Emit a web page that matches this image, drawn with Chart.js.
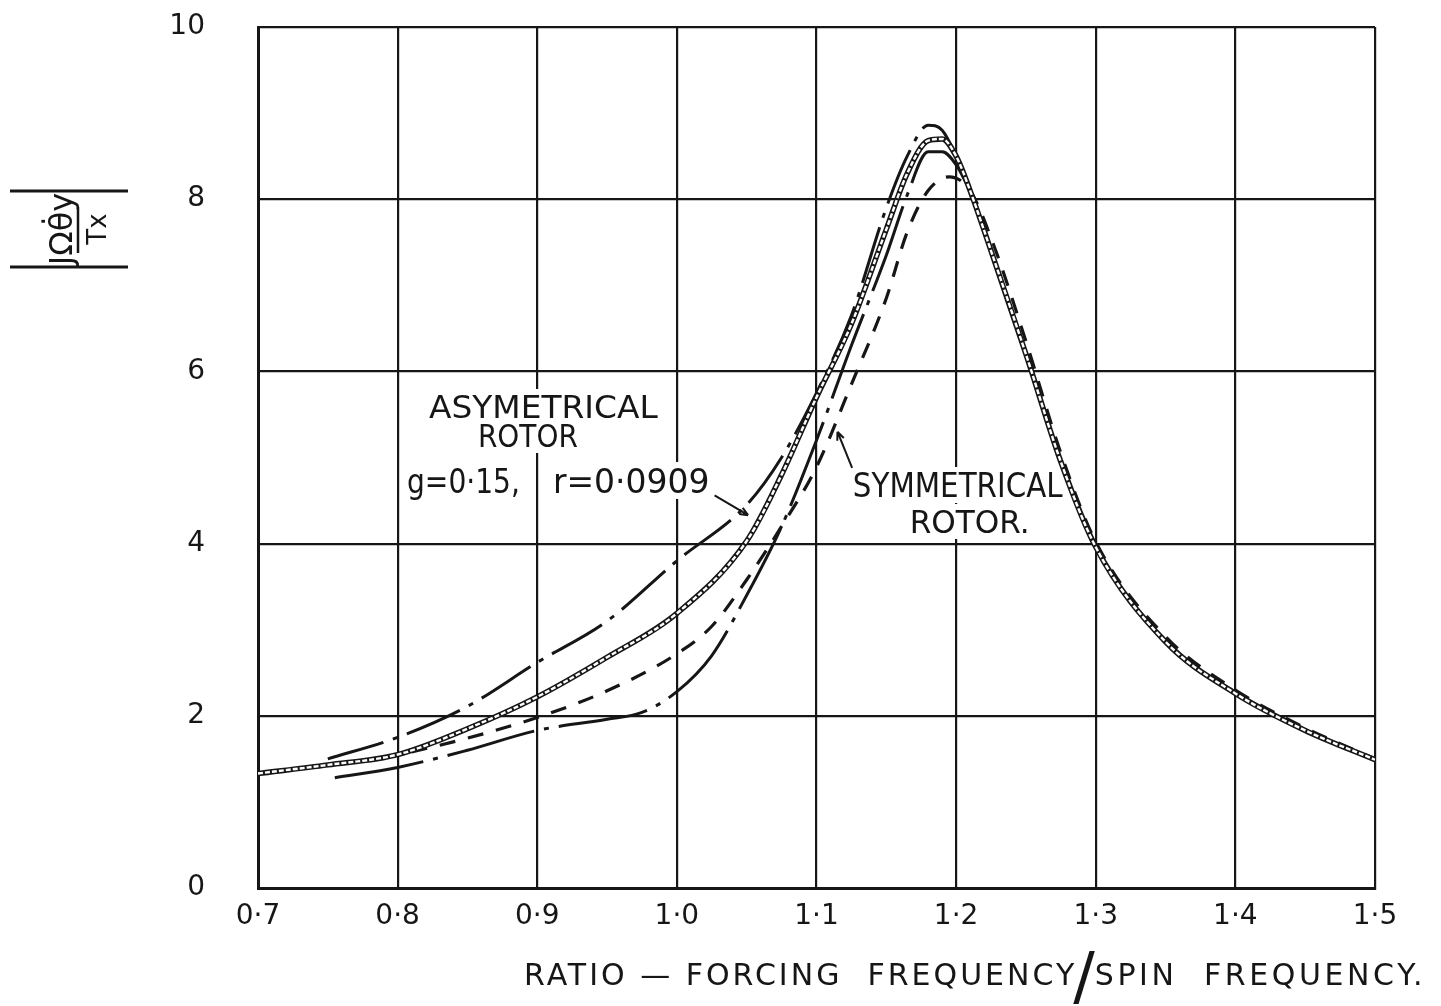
<!DOCTYPE html>
<html>
<head>
<meta charset="utf-8">
<script src="https://cdn.jsdelivr.net/npm/chart.js@4.4.1/dist/chart.umd.min.js"></script>
<style>
    html, body { margin: 0; padding: 0; background: #fff; }
    #quadro { position: relative; width: 1441px; height: 1006px; }
</style>
</head>
<body>
<div id="quadro"><canvas id="graficoRotor"></canvas></div>
<script>
// Marcas dos eixos
const marcasX = [0.7, 0.8, 0.9, 1.0, 1.1, 1.2, 1.3, 1.4, 1.5];
const rotulosX = ['0·7', '0·8', '0·9', '1·0', '1·1', '1·2', '1·3', '1·4', '1·5'];
const marcasY = [0, 2, 4, 6, 8, 10];
const rotulosY = ['0', '2', '4', '6', '8', '10'];

// Curva dupla (linha cheia hachurada)
const xDupla = [0.70, 0.75, 0.80, 0.85, 0.90, 0.95, 1.00, 1.05, 1.075, 1.10, 1.125, 1.15, 1.165, 1.18, 1.19, 1.20, 1.21, 1.225, 1.25, 1.275, 1.30, 1.35, 1.40, 1.45, 1.50];
const yDupla = [1.33, 1.43, 1.55, 1.85, 2.22, 2.68, 3.19, 4.03, 4.80, 5.70, 6.55, 7.65, 8.30, 8.68, 8.70, 8.50, 8.10, 7.40, 6.20, 4.95, 3.96, 2.86, 2.26, 1.83, 1.49];

// Curva traço-ponto (a mais alta)
const xTracoPonto = [0.75, 0.80, 0.85, 0.90, 0.95, 1.00, 1.05, 1.075, 1.10, 1.125, 1.15, 1.165, 1.18, 1.19, 1.20, 1.21];
const yTracoPonto = [1.50, 1.75, 2.11, 2.62, 3.10, 3.80, 4.45, 5.00, 5.75, 6.65, 7.90, 8.50, 8.86, 8.80, 8.50, 8.10];

// Curva traço longo-ponto (a mais baixa à esquerda)
const xTracoLongo = [0.755, 0.80, 0.85, 0.90, 0.95, 0.975, 1.00, 1.025, 1.05, 1.075, 1.10, 1.125, 1.15, 1.165, 1.18, 1.19, 1.20, 1.21];
const yTracoLongo = [1.28, 1.40, 1.60, 1.83, 1.96, 2.04, 2.28, 2.70, 3.40, 4.20, 5.20, 6.30, 7.35, 8.05, 8.55, 8.55, 8.40, 8.10];

// Curva tracejada
const xTracejada = [0.81, 0.85, 0.90, 0.95, 1.00, 1.025, 1.05, 1.075, 1.10, 1.125, 1.15, 1.165, 1.18, 1.195, 1.21, 1.225, 1.25, 1.275, 1.30, 1.35, 1.40, 1.45, 1.50];
const yTracejada = [1.58, 1.74, 1.98, 2.29, 2.72, 3.04, 3.58, 4.20, 4.89, 5.85, 6.85, 7.62, 8.10, 8.26, 8.10, 7.55, 6.35, 5.05, 4.02, 2.92, 2.30, 1.86, 1.50];

// Junta x e y em pontos para o Chart.js
function pontos(xs, ys) {
    return xs.map(function (x, i) { return { x: x, y: ys[i] }; });
}

const FONTE = '"DejaVu Sans", sans-serif';
const TINTA = '#161616';

// Textos dentro do gráfico (posição em unidades dos eixos)
const notas = [
    { texto: 'ASYMETRICAL', x0: 0.8224, x1: 0.9863, y: 5.459, alt: 23 },
    { texto: 'ROTOR', x0: 0.8575, x1: 0.9291, y: 5.122, alt: 23 },
    { texto: 'g=0·15,', x0: 0.8067, x1: 0.8876, y: 4.588, alt: 25 },
    { texto: 'r=0·0909', x0: 0.9112, x1: 1.0233, y: 4.588, alt: 25 },
    { texto: 'SYMMETRICAL', x0: 1.126, x1: 1.2763, y: 4.541, alt: 24 },
    { texto: 'ROTOR.', x0: 1.1667, x1: 1.2527, y: 4.123, alt: 23 }
];
// Setas de chamada
const setas = [
    [1.027, 4.56, 1.051, 4.33],
    [1.1255, 4.88, 1.115, 5.30]
];

// Escreve texto esticado para caber entre x0 e x1
function textoAjustado(ctx, texto, x0, x1, base, alt) {
    ctx.font = (alt / 0.73).toFixed(1) + 'px ' + FONTE;
    const w = ctx.measureText(texto).width;
    ctx.save();
    ctx.translate(x0, base);
    ctx.scale((x1 - x0) / w, 1);
    ctx.textAlign = 'left';
    ctx.textBaseline = 'alphabetic';
    ctx.fillText(texto, 0, 0);
    ctx.restore();
}

const pluginNotas = {
    id: 'notas',
    beforeDatasetsDraw(chart) {
        // apaga a grade por baixo dos textos
        const ctx = chart.ctx, sx = chart.scales.x, sy = chart.scales.y;
        ctx.save();
        ctx.fillStyle = '#fff';
        notas.forEach(function (n) {
            const a = sx.getPixelForValue(n.x0), b = sx.getPixelForValue(n.x1);
            const base = sy.getPixelForValue(n.y);
            ctx.fillRect(a - 5, base - n.alt - 6, b - a + 10, n.alt + 12);
        });
        ctx.restore();
    },
    afterDatasetsDraw(chart) {
        const ctx = chart.ctx, sx = chart.scales.x, sy = chart.scales.y;
        ctx.save();
        ctx.fillStyle = TINTA;
        ctx.strokeStyle = TINTA;
        notas.forEach(function (n) {
            textoAjustado(ctx, n.texto, sx.getPixelForValue(n.x0), sx.getPixelForValue(n.x1), sy.getPixelForValue(n.y), n.alt);
        });
        ctx.lineWidth = 2;
        setas.forEach(function (s) {
            const ax = sx.getPixelForValue(s[0]), ay = sy.getPixelForValue(s[1]);
            const bx = sx.getPixelForValue(s[2]), by = sy.getPixelForValue(s[3]);
            ctx.beginPath();
            ctx.moveTo(ax, ay);
            ctx.lineTo(bx, by);
            const ang = Math.atan2(by - ay, bx - ax);
            ctx.moveTo(bx, by);
            ctx.lineTo(bx - 9 * Math.cos(ang - 0.4), by - 9 * Math.sin(ang - 0.4));
            ctx.moveTo(bx, by);
            ctx.lineTo(bx - 9 * Math.cos(ang + 0.4), by - 9 * Math.sin(ang + 0.4));
            ctx.stroke();
        });

        // título do eixo x, com a barra grande no meio
        ctx.textAlign = 'left';
        ctx.textBaseline = 'alphabetic';
        ctx.font = '30px ' + FONTE;
        ctx.letterSpacing = '3px';
        let xt = 524;
        const esquerda = 'RATIO — FORCING  FREQUENCY';
        ctx.fillText(esquerda, xt, 985);
        xt += ctx.measureText(esquerda).width;
        ctx.font = '64px ' + FONTE;
        ctx.letterSpacing = '0px';
        ctx.fillText('/', xt - 4, 998);
        xt += ctx.measureText('/').width - 4;
        ctx.font = '30px ' + FONTE;
        ctx.letterSpacing = '3.6px';
        ctx.fillText('SPIN  FREQUENCY.', xt, 985);
        ctx.letterSpacing = '0px';

        // título do eixo y: |JΩθ̇y / Tx| girado
        ctx.translate(70, 229);
        ctx.rotate(-Math.PI / 2);
        ctx.lineWidth = 3;
        ctx.beginPath();
        ctx.moveTo(-38, -60); ctx.lineTo(-38, 58);
        ctx.moveTo(38, -60); ctx.lineTo(38, 58);
        ctx.stroke();
        ctx.lineWidth = 2.5;
        ctx.beginPath();
        ctx.moveTo(-24, 8); ctx.lineTo(22, 8);
        ctx.stroke();
        ctx.textAlign = 'center';
        ctx.font = '32px ' + FONTE;
        ctx.fillText('JΩθ\u0307y', 0, 2);
        ctx.font = '26px ' + FONTE;
        ctx.fillText('Tx', 0, 36);
        ctx.restore();
    }
};

const config = {
    type: 'line',
    data: {
        datasets: [
            {
                label: 'traço-ponto',
                data: pontos(xTracoPonto, yTracoPonto),
                borderColor: TINTA,
                borderWidth: 3,
                borderDash: [58, 10, 5, 10],
                order: 3
            },
            {
                label: 'traço longo-ponto',
                data: pontos(xTracoLongo, yTracoLongo),
                borderColor: TINTA,
                borderWidth: 3,
                borderDash: [90, 10, 5, 10],
                order: 3
            },
            {
                label: 'tracejada',
                data: pontos(xTracejada, yTracejada),
                borderColor: TINTA,
                borderWidth: 3.2,
                borderDash: [16, 13],
                order: 3
            },
            {
                label: 'dupla',
                data: pontos(xDupla, yDupla),
                borderColor: TINTA,
                borderWidth: 5.5,
                order: 2
            },
            {
                // miolo branco por cima da linha dupla, dá o efeito hachurado
                label: 'dupla (miolo)',
                data: pontos(xDupla, yDupla),
                borderColor: '#ffffff',
                borderWidth: 2.4,
                borderDash: [5, 2],
                order: 1
            }
        ]
    },
    options: {
        responsive: true,
        maintainAspectRatio: false,
        devicePixelRatio: 1,
        animation: false,
        datasets: {
            line: {
                pointRadius: 0,
                fill: false,
                cubicInterpolationMode: 'monotone'
            }
        },
        layout: { padding: { top: 27, right: 66, left: 0, bottom: 0 } },
        plugins: {
            legend: { display: false },
            tooltip: { enabled: false },
            title: { display: false }
        },
        scales: {
            x: {
                type: 'linear',
                min: 0.7,
                max: 1.5,
                afterFit: function (s) { s.height = 118; },
                afterBuildTicks: function (s) { s.ticks = marcasX.map(function (v) { return { value: v }; }); },
                ticks: {
                    callback: function (v, i) { return rotulosX[i]; },
                    font: { family: FONTE, size: 28 },
                    color: TINTA,
                    padding: 12,
                    maxRotation: 0,
                    autoSkip: false
                },
                grid: { color: TINTA, lineWidth: 2.2, drawTicks: false },
                border: { color: TINTA, width: 3 }
            },
            y: {
                type: 'linear',
                min: 0,
                max: 10,
                afterFit: function (s) {
                    s.width = 258;
                    // o padding dos rótulos não deve empurrar a área do gráfico
                    s.paddingTop = 17;
                    s.paddingBottom = 17;
                },
                afterBuildTicks: function (s) { s.ticks = marcasY.map(function (v) { return { value: v }; }); },
                ticks: {
                    callback: function (v, i) { return rotulosY[i]; },
                    font: { family: FONTE, size: 28 },
                    color: TINTA,
                    padding: 53
                },
                grid: { color: TINTA, lineWidth: 2.2, drawTicks: false },
                border: { color: TINTA, width: 3 }
            }
        }
    },
    plugins: [pluginNotas]
};

let grafico = new Chart(document.getElementById('graficoRotor'), config);
</script>
</body>
</html>
